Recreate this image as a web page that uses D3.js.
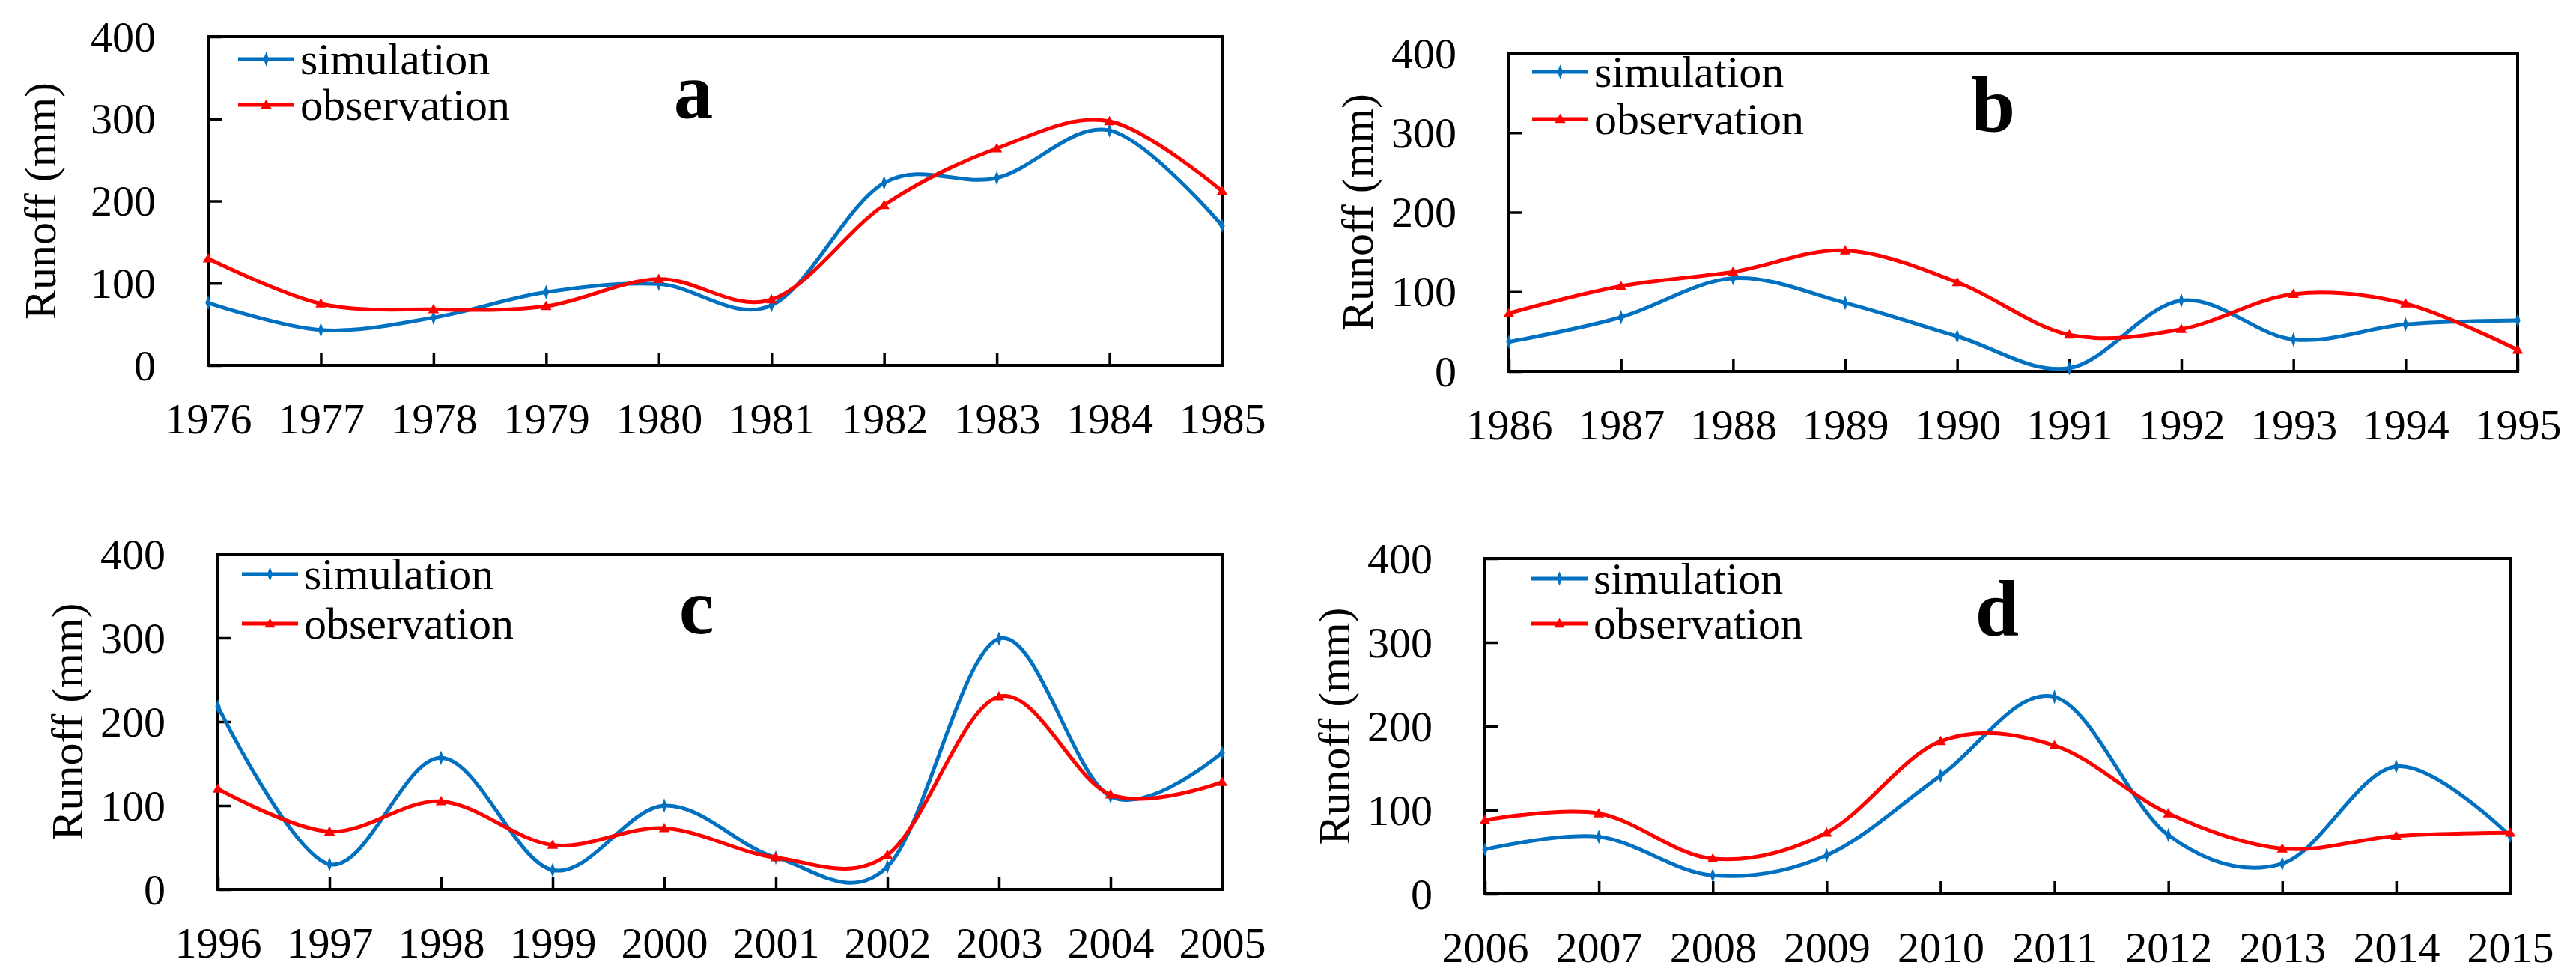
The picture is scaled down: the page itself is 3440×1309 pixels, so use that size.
<!DOCTYPE html>
<html>
<head>
<meta charset="utf-8">
<script src="https://cdn.jsdelivr.net/npm/d3@7"></script>
<style>
  html, body { margin: 0; padding: 0; background: #fff; }
  svg { display: block; }
  text { font-family: "Liberation Serif", "Times New Roman", serif; fill: #000; }
</style>
</head>
<body>
<svg id="chart" width="3440" height="1309"></svg>
<script>
// ---------- data ----------
const yearsA = ["1976","1977","1978","1979","1980","1981","1982","1983","1984","1985"];
const yearsB = ["1986","1987","1988","1989","1990","1991","1992","1993","1994","1995"];
const yearsC = ["1996","1997","1998","1999","2000","2001","2002","2003","2004","2005"];
const yearsD = ["2006","2007","2008","2009","2010","2011","2012","2013","2014","2015"];

const simA = [76, 43, 58, 89, 99, 73, 222, 228, 286, 170];
const obsA = [130, 75, 68, 72, 105, 80, 195, 264, 297, 212];
const simB = [37, 68, 117, 86, 44, 4, 89, 40, 59, 64];
const obsB = [73, 107, 125, 152, 112, 46, 53, 97, 85, 27];
const simC = [218, 30, 157, 23, 100, 38, 27, 299, 111, 163];
const obsC = [120, 69, 105, 53, 73, 38, 41, 230, 113, 128];
const simD = [53, 68, 22, 46, 141, 235, 70, 36, 152, 69];
const obsD = [88, 96, 42, 73, 182, 177, 96, 54, 69, 73];

const yTicks = [0, 100, 200, 300, 400];
const seriesNames = ["simulation", "observation"];
const panelLetters = ["a", "b", "c", "d"];

// ---------- layout ----------
const panels = [
  { years: yearsA, sim: simA, obs: obsA, letter: panelLetters[0],
    left: 278, right: 1632, top: 49, bottom: 488, ylabOff: 204, legX: 40, legY: 30, legGap: 61, letX: 648, letY: 108 },
  { years: yearsB, sim: simB, obs: obsB, letter: panelLetters[1],
    left: 2015, right: 3362, top: 71, bottom: 496, ylabOff: 182, legX: 31, legY: 25, legGap: 63, letX: 647, letY: 105 },
  { years: yearsC, sim: simC, obs: obsC, letter: panelLetters[2],
    left: 291, right: 1632, top: 740, bottom: 1188, ylabOff: 181, legX: 32, legY: 27, legGap: 66, letX: 639, letY: 106 },
  { years: yearsD, sim: simD, obs: obsD, letter: panelLetters[3],
    left: 1983, right: 3352, top: 746, bottom: 1194, ylabOff: 181, legX: 62, legY: 27, legGap: 60, letX: 684, letY: 103 }
];

const BLUE = "#0070C0", RED = "#FF0000";
const svg = d3.select("#chart");
svg.append("rect").attr("width", 3440).attr("height", 1309).attr("fill", "#fff");

const diamond = d3.symbol().type(d3.symbolDiamond).size(70);
const triangle = d3.symbol().type(d3.symbolTriangle).size(90);

panels.forEach(p => {
  const w = p.right - p.left, h = p.bottom - p.top;
  const g = svg.append("g").attr("transform", `translate(${p.left},${p.top})`);
  const x = d3.scalePoint().domain(p.years).range([0, w]).padding(0);
  const y = d3.scaleLinear().domain([0, 400]).range([h, 0]);

  // y axis
  const ya = g.append("g").call(d3.axisLeft(y).tickValues(yTicks).tickSize(-18).tickPadding(70));
  ya.select(".domain").remove();
  ya.selectAll("line").attr("stroke", "#000").attr("stroke-width", 3.5);
  ya.selectAll("text").attr("font-size", 58).attr("dy", "0.33em")
    .style("font-family", "'Liberation Serif','Times New Roman',serif");

  // x axis
  const xa = g.append("g").attr("transform", `translate(0,${h})`)
    .call(d3.axisBottom(x).tickSize(-17).tickPadding(0));
  xa.select(".domain").remove();
  xa.selectAll("line").attr("stroke", "#000").attr("stroke-width", 3.5);
  xa.selectAll("text").attr("font-size", 58).attr("y", 91).attr("dy", 0)
    .style("font-family", "'Liberation Serif','Times New Roman',serif");

  // frame
  g.append("rect").attr("x", 0).attr("y", 0).attr("width", w).attr("height", h)
    .attr("fill", "none").attr("stroke", "#000").attr("stroke-width", 4);

  // y label
  g.append("text")
    .attr("transform", `translate(${-p.ylabOff},${h / 2}) rotate(-90)`)
    .attr("text-anchor", "middle").attr("font-size", 60)
    .text("Runoff (mm)");

  // lines
  const line = d3.line()
    .x((d, i) => x(p.years[i]))
    .y(d => y(d))
    .curve(d3.curveCardinal.tension(0));

  g.append("path").datum(p.sim).attr("d", line)
    .attr("fill", "none").attr("stroke", BLUE).attr("stroke-width", 5);
  g.append("path").datum(p.obs).attr("d", line)
    .attr("fill", "none").attr("stroke", RED).attr("stroke-width", 5);

  g.selectAll(".ms").data(p.sim).enter().append("path")
    .attr("d", diamond).attr("fill", BLUE)
    .attr("transform", (d, i) => `translate(${x(p.years[i])},${y(d)}) scale(0.8,1.25)`);
  g.selectAll(".mo").data(p.obs).enter().append("path")
    .attr("d", triangle).attr("fill", RED)
    .attr("transform", (d, i) => `translate(${x(p.years[i])},${y(d) + 1})`);

  // legend
  const lg = g.append("g").attr("transform", `translate(${p.legX},${p.legY})`);
  [BLUE, RED].forEach((c, k) => {
    const ly = k * p.legGap;
    lg.append("line").attr("x1", 0).attr("x2", 75).attr("y1", ly).attr("y2", ly)
      .attr("stroke", c).attr("stroke-width", 5);
    lg.append("path").attr("d", k === 0 ? diamond : triangle).attr("fill", c)
      .attr("transform", k === 0 ? `translate(37.5,${ly}) scale(0.8,1.25)` : `translate(37.5,${ly + 1})`);
    lg.append("text").attr("x", 83).attr("y", ly + 20).attr("font-size", 60)
      .text(seriesNames[k]);
  });

  // panel letter
  g.append("text").attr("x", p.letX).attr("y", p.letY)
    .attr("text-anchor", "middle").attr("font-size", 105).attr("font-weight", "bold")
    .text(p.letter);
});
</script>
</body>
</html>
